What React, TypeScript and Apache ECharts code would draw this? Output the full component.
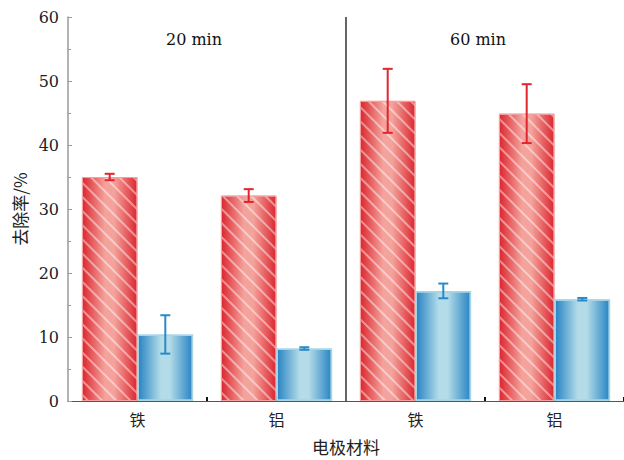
import React, { useEffect, useRef } from "react";
import * as echarts from "echarts";

const categories = ["铁", "铝", "铁", "铝"];
const redValues = [35.0, 32.1, 46.9, 44.9];
const redErrors = [0.5, 1.0, 5.0, 4.6];
const blueValues = [10.4, 8.2, 17.2, 15.9];
const blueErrors = [3.0, 0.2, 1.15, 0.2];
const yTicks = [0, 10, 20, 30, 40, 50, 60];
const groupLabels = ["20 min", "60 min"];
const dividerAfter = [1];

const FONT = "DejaVu Serif";
const CJK = "Noto Sans CJK SC";

export default function App() {
  const ref = useRef<HTMLDivElement>(null);
  useEffect(() => {
    if (!ref.current) return;
    const chart = echarts.init(ref.current, null, { renderer: "svg" });
    const redGrad = new echarts.graphic.LinearGradient(0, 0, 1, 0, [
      { offset: 0, color: "#dc2730" },
      { offset: 0.42, color: "#f4a39c" },
      { offset: 0.58, color: "#f4a39c" },
      { offset: 1, color: "#dc2730" },
    ]);
    const blueGrad = new echarts.graphic.LinearGradient(0, 0, 1, 0, [
      { offset: 0, color: "#2884c4" },
      { offset: 0.42, color: "#b4dce8" },
      { offset: 0.58, color: "#b4dce8" },
      { offset: 1, color: "#2884c4" },
    ]);
    const errRender = (offset: number, color: string) => (params: any, api: any) => {
      const idx = api.value(0);
      const v = api.value(1);
      const e = api.value(2);
      const band = api.size([1, 0])[0];
      const c = api.coord([idx, v]);
      const x = c[0] + offset * band;
      const top = api.coord([idx, v + e])[1];
      const bot = api.coord([idx, v - e])[1];
      const hw = 5;
      const style = { stroke: color, lineWidth: 2 };
      return {
        type: "group",
        children: [
          { type: "line", shape: { x1: x, y1: top, x2: x, y2: bot }, style },
          { type: "line", shape: { x1: x - hw, y1: top, x2: x + hw, y2: top }, style },
          { type: "line", shape: { x1: x - hw, y1: bot, x2: x + hw, y2: bot }, style },
        ],
      };
    };
    const dividerRender = (params: any, api: any) => {
      const idx = api.value(0);
      const band = api.size([1, 0])[0];
      const x = api.coord([idx, 0])[0] + band / 2;
      const y0 = api.coord([idx, 0])[1];
      const y1 = api.coord([idx, 60])[1];
      return {
        type: "line",
        shape: { x1: x, y1: y1, x2: x, y2: y0 },
        style: { stroke: "#333", lineWidth: 1.5 },
      };
    };
    const option: any = {
      animation: false,
      aria: { enabled: true, decal: { show: true } },
      grid: { left: 68, right: 0, top: 17, bottom: 57 },
      graphic: [
        { type: "text", left: 166, top: 31, style: { text: groupLabels[0], fontFamily: FONT, fontSize: 16, fill: "#111" } },
        { type: "text", left: 450, top: 31, style: { text: groupLabels[1], fontFamily: FONT, fontSize: 16, fill: "#111" } },
      ],
      xAxis: [
        {
          type: "category",
          data: categories,
          name: "电极材料",
          nameLocation: "middle",
          nameGap: 37,
          nameTextStyle: { fontFamily: CJK, color: "#222", fontSize: 17 },
          axisLine: { lineStyle: { color: "#555", width: 1.2 } },
          axisTick: {
            show: true,
            inside: true,
            length: 4,
            lineStyle: { color: "#111", width: 2 },
            interval: (i: number) => i !== 0 && i !== 2,
          },
          axisLabel: { fontFamily: CJK, color: "#222", fontSize: 16, margin: 10 },
          splitLine: { show: false },
        },
        {
          type: "category",
          data: categories,
          position: "bottom",
          axisLine: { show: false },
          axisLabel: { show: false },
          axisTick: { show: true, inside: true, alignWithLabel: true, length: 5, lineStyle: { color: "#000", width: 2.5 } },
        },
      ],
      yAxis: {
        type: "value",
        min: 0,
        max: 60,
        interval: 10,
        name: "去除率/%",
        nameLocation: "middle",
        nameGap: 40,
        nameTextStyle: { fontFamily: CJK, color: "#222", fontSize: 17 },
        axisLine: { show: true, lineStyle: { color: "#9a9a9a", width: 1.5 } },
        axisTick: { show: true, inside: true, length: 4, lineStyle: { color: "#9a9a9a" } },
        minorTick: { show: true, splitNumber: 2, length: 3, lineStyle: { color: "#9a9a9a" } },
        axisLabel: {
          fontFamily: FONT,
          color: "#222",
          fontSize: 16,
          margin: 9,
          formatter: (v: number) => (yTicks.includes(v) ? String(v) : ""),
        },
        splitLine: { show: false },
      },
      series: [
        {
          type: "bar",
          data: redValues,
          barWidth: "40%",
          barGap: "0%",
          itemStyle: {
            color: redGrad,
            borderColor: "#f3a0a0",
            borderWidth: 1,
            decal: {
              symbol: "rect",
              symbolSize: 1,
              color: "rgba(255,255,255,0.45)",
              dashArrayX: [1, 0],
              dashArrayY: [1.2, 7.8],
              rotation: Math.PI / 4,
            },
          },
        },
        {
          type: "bar",
          data: blueValues,
          barWidth: "40%",
          barGap: "0%",
          itemStyle: {
            color: blueGrad,
            borderColor: "#a6d6e6",
            borderWidth: 1.5,
            decal: { symbol: "none" },
          },
        },
        {
          type: "custom",
          data: redValues.map((v, i) => [i, v, redErrors[i]]),
          renderItem: errRender(-0.2, "#e0262f"),
          z: 10,
          itemStyle: { decal: { symbol: "none" } },
        },
        {
          type: "custom",
          data: blueValues.map((v, i) => [i, v, blueErrors[i]]),
          renderItem: errRender(0.2, "#2a8ac8"),
          z: 10,
          itemStyle: { decal: { symbol: "none" } },
        },
        {
          type: "custom",
          data: dividerAfter.map((i) => [i]),
          renderItem: dividerRender,
          z: 11,
          silent: true,
          itemStyle: { decal: { symbol: "none" } },
        },
      ],
    };
    chart.setOption(option);
    return () => chart.dispose();
  }, []);
  return (
    <div
      ref={ref}
      style={{ position: "absolute", left: 0, top: 0, width: 624, height: 460, background: "#fff" }}
    />
  );
}
